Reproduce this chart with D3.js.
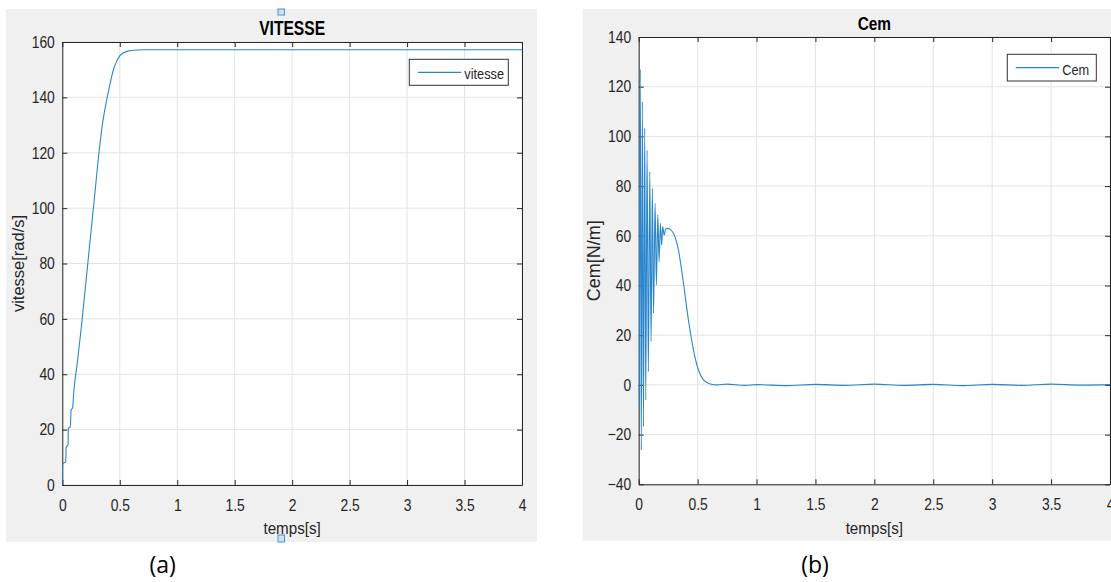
<!DOCTYPE html>
<html>
<head>
<meta charset="utf-8">
<script src="https://cdn.jsdelivr.net/npm/d3@7"></script>
<style>
  body { margin: 0; background: #fff; }
  svg { display: block; }
  text { font-family: "Liberation Sans", Arial, Helvetica, sans-serif; fill: #262626; }
</style>
</head>
<body>
<svg id="fig" width="1111" height="582"></svg>
<script>
"use strict";

// time axis shared by both plots
var xTicks = [0, 0.5, 1, 1.5, 2, 2.5, 3, 3.5, 4];
var xTickLabels = ["0", "0.5", "1", "1.5", "2", "2.5", "3", "3.5", "4"];

// (a) vitesse
var vitesseT = [0, 0.003, 0.015, 0.03, 0.033, 0.04, 0.05, 0.053, 0.07, 0.076, 0.09, 0.1, 0.13, 0.163,
  0.2, 0.235, 0.278, 0.319, 0.35, 0.386, 0.41, 0.43, 0.45, 0.473, 0.5, 0.53, 0.57, 0.617, 0.7, 1, 2, 3, 4];
var vitesseV = [0, 7.5, 8, 8.3, 13.5, 14, 14.5, 20.5, 21, 27, 28, 33.7, 44, 56,
  71, 85.5, 103, 120, 130.5, 139, 143.8, 147.6, 150.6, 153, 155, 156, 156.7, 157, 157.2, 157.2, 157.2, 157.2, 157.2];
var vitesseYTicks = [0, 20, 40, 60, 80, 100, 120, 140, 160];

// (b) Cem
var cemT = [0, 0.004, 0.013, 0.022, 0.031, 0.040, 0.051, 0.060, 0.071, 0.082, 0.094, 0.105, 0.116, 0.126,
  0.139, 0.150, 0.162, 0.173, 0.184, 0.195, 0.204, 0.216, 0.228, 0.25, 0.267, 0.295, 0.337, 0.38,
  0.422, 0.465, 0.507, 0.55, 0.607, 0.664, 0.75, 0.9, 1.0, 1.25, 1.5, 1.75, 2, 2.25, 2.5, 2.75,
  3, 3.25, 3.5, 3.75, 4];
var cemV = [0, -8, 127, -26.2, 114, -16.8, 103.3, -6.1, 94.5, 5.3, 85.8, 17.4, 79.1, 28.8,
  73.1, 40.2, 68.4, 49.6, 65, 56.3, 63.7, 60.3, 62.7, 63, 62.6, 61, 54.3, 40.9,
  26.1, 14, 6, 2, 0.4, 0, 0.3, -0.2, 0.1, -0.3, 0.2, -0.2, 0.3, -0.2, 0.2, -0.3,
  0.2, -0.2, 0.3, -0.1, 0.1];
var cemYTicks = [-40, -20, 0, 20, 40, 60, 80, 100, 120, 140];

var svg = d3.select("#fig");
var lineColor = "#2a86cc";

function squeeze(sel, k) {
  sel.each(function() {
    var w = this.getComputedTextLength();
    d3.select(this).attr("textLength", w * k).attr("lengthAdjust", "spacingAndGlyphs");
  });
}

function drawPanel(p) {
  var g = svg.append("g");
  g.append("rect")
    .attr("x", p.bg[0]).attr("y", p.bg[1])
    .attr("width", p.bg[2]).attr("height", p.bg[3])
    .attr("fill", "#f0f0f0");

  var x = d3.scaleLinear().domain([0, 4]).range([p.left, p.right]);
  var y = d3.scaleLinear().domain(p.yDomain).range([p.bottom, p.top]);

  g.append("rect")
    .attr("x", p.left).attr("y", p.top)
    .attr("width", p.right - p.left).attr("height", p.bottom - p.top)
    .attr("fill", "#fff");

  // grid
  g.append("g").selectAll("line").data(xTicks).enter().append("line")
    .attr("x1", x).attr("x2", x).attr("y1", p.top).attr("y2", p.bottom)
    .attr("stroke", "#e3e3e3").attr("stroke-width", 1);
  g.append("g").selectAll("line").data(p.yTicks).enter().append("line")
    .attr("y1", y).attr("y2", y).attr("x1", p.left).attr("x2", p.right)
    .attr("stroke", "#e3e3e3").attr("stroke-width", 1);

  // box with inward ticks on all four sides
  var fmtX = function(d, i) { return xTickLabels[i]; };
  var axes = [
    [d3.axisBottom(x).tickValues(xTicks).tickFormat(fmtX).tickPadding(14), "translate(0," + p.bottom + ")"],
    [d3.axisTop(x).tickValues(xTicks).tickFormat(""), "translate(0," + p.top + ")"],
    [d3.axisLeft(y).tickValues(p.yTicks).tickPadding(7.5), "translate(" + p.left + ",0)"],
    [d3.axisRight(y).tickValues(p.yTicks).tickFormat(""), "translate(" + p.right + ",0)"]
  ];
  axes.forEach(function(a) {
    var ax = g.append("g")
      .attr("transform", a[1])
      .call(a[0].tickSizeInner(-5).tickSizeOuter(0));
    ax.select(".domain").attr("stroke", "#262626");
    ax.selectAll(".tick line").attr("stroke", "#262626");
    ax.selectAll(".tick text")
      .attr("fill", "#262626")
      .style("font-size", "16.5px")
      .style("font-family", "'Liberation Sans', Arial, sans-serif");
    squeeze(ax.selectAll(".tick text"), 0.84);
  });

  // curve, drawn over the box so the first spike stays visible
  var clipId = "clip" + p.id;
  svg.append("clipPath").attr("id", clipId).append("rect")
    .attr("x", p.left).attr("y", p.top)
    .attr("width", p.right - p.left).attr("height", p.bottom - p.top);
  var pts = p.t.map(function(t, i) { return [t, p.v[i]]; });
  g.append("path")
    .datum(pts)
    .attr("clip-path", "url(#" + clipId + ")")
    .attr("fill", "none")
    .attr("stroke", lineColor)
    .attr("stroke-width", 1.1)
    .attr("d", d3.line().curve(d3.curveMonotoneX)
      .x(function(d) { return x(d[0]); })
      .y(function(d) { return y(d[1]); }));

  // title and labels
  var title = g.append("text")
    .attr("x", (p.left + p.right) / 2).attr("y", p.titleY)
    .attr("text-anchor", "middle")
    .style("font-weight", "bold").style("font-size", p.titleSize + "px")
    .style("fill", "#000")
    .text(p.title);
  squeeze(title, p.titleSqueeze);

  var xl = g.append("text")
    .attr("x", (p.left + p.right) / 2).attr("y", 534)
    .attr("text-anchor", "middle")
    .style("font-size", "16.5px")
    .text("temps[s]");
  squeeze(xl, 0.92);

  g.append("text")
    .attr("transform", "translate(" + p.yLabelX + "," + (p.top + p.bottom) / 2 + ") rotate(-90)")
    .attr("text-anchor", "middle")
    .style("font-size", p.yLabelSize + "px")
    .text(p.yLabel);

  // legend
  var lg = g.append("g");
  lg.append("rect")
    .attr("x", p.legend[0]).attr("y", p.legend[1])
    .attr("width", p.legend[2]).attr("height", p.legend[3])
    .attr("fill", "#fff").attr("stroke", "#333").attr("stroke-width", 1);
  lg.append("line")
    .attr("x1", p.legend[0] + 8.5).attr("x2", p.legend[0] + 52)
    .attr("y1", p.legend[1] + p.legend[3] / 2).attr("y2", p.legend[1] + p.legend[3] / 2)
    .attr("stroke", lineColor).attr("stroke-width", 1.2);
  var lt = lg.append("text")
    .attr("x", p.legend[0] + 55).attr("y", p.legend[1] + p.legend[3] / 2 + 7)
    .style("font-size", "15px")
    .text(p.legendText);
  squeeze(lt, 0.85);

  g.append("text")
    .attr("x", p.tagX).attr("y", 573)
    .attr("text-anchor", "middle")
    .style("font-family", "'Open Sans', sans-serif")
    .style("font-size", "23px")
    .style("fill", "#000")
    .text(p.tag);

  return g;
}

var ga = drawPanel({
  id: "a", bg: [6, 9, 531, 533],
  left: 62.3, right: 522, top: 42, bottom: 485,
  yDomain: [0, 160], yTicks: vitesseYTicks,
  t: vitesseT, v: vitesseV,
  title: "VITESSE", titleY: 34.7, titleSize: 19.5, titleSqueeze: 0.8,
  yLabel: "vitesse[rad/s]", yLabelX: 24, yLabelSize: 16.5,
  legend: [409.3, 59.3, 99, 26], legendText: "vitesse",
  tag: "(a)", tagX: 162.7
});

// selection handles on the left figure
[[278, 9, 6.5, 6], [278, 535, 6.5, 7]].forEach(function(r) {
  ga.append("rect")
    .attr("x", r[0]).attr("y", r[1]).attr("width", r[2]).attr("height", r[3])
    .attr("fill", "#cfe2f5").attr("stroke", "#4b8fd6").attr("stroke-width", 1);
});

drawPanel({
  id: "b", bg: [582.7, 9, 528.3, 532],
  left: 638.7, right: 1110, top: 37, bottom: 484.3,
  yDomain: [-40, 140], yTicks: cemYTicks,
  t: cemT, v: cemV,
  title: "Cem", titleY: 30, titleSize: 17.7, titleSqueeze: 0.87,
  yLabel: "Cem[N/m]", yLabelX: 599.5, yLabelSize: 18,
  legend: [1007.3, 54.3, 89, 26.7], legendText: "Cem",
  tag: "(b)", tagX: 815
});
</script>
</body>
</html>
